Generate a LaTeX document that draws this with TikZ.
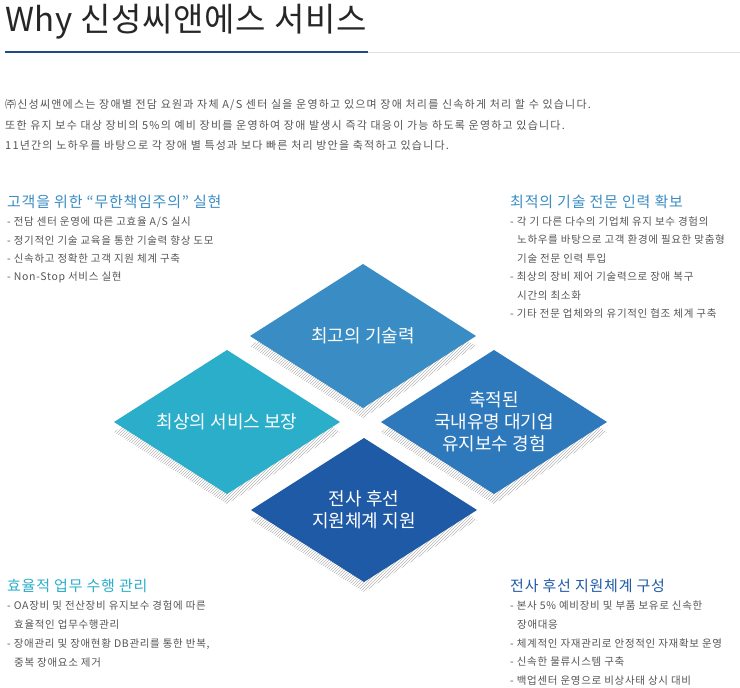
\documentclass[tikz,border=0pt]{standalone}
\usepackage{fontspec}
\setmainfont{Noto Sans CJK KR}
\newfontfamily\introfont[LetterSpace=11]{Noto Sans CJK KR}
\newfontfamily\bodyfont[LetterSpace=6.5]{Noto Sans CJK KR}
\newfontfamily\headfont[LetterSpace=5]{Noto Sans CJK KR}
\newfontfamily\titlefont[LetterSpace=2]{Noto Sans CJK KR}
\usetikzlibrary{patterns}
\definecolor{txt}{HTML}{555555}
\definecolor{cA}{HTML}{3A8DC4}
\definecolor{cB}{HTML}{2AAEC9}
\definecolor{cC}{HTML}{2E78BC}
\definecolor{cD}{HTML}{1F5AA6}
\definecolor{navy}{HTML}{1F4A8A}
\tikzset{
 body/.style={anchor=west,inner sep=0pt,text=txt,font=\bodyfont\fontsize{10.5}{12}\selectfont},
 intro/.style={anchor=west,inner sep=0pt,text=txt,font=\introfont\fontsize{11}{12}\selectfont},
 head/.style={anchor=west,inner sep=0pt,font=\headfont\fontsize{15}{16}\selectfont},
 dlabel/.style={text=white,align=center,font=\fontsize{18}{22}\selectfont},
 shadowd/.style={pattern=north east lines,pattern color=black!28},
}
\newcommand{\dia}[4]{%
 \fill[shadowd] (#1-113,#2+10) -- (#1,#2-62) -- (#1+113,#2+10) -- (#1,#2+82) -- cycle;
 \fill[#3] (#1-113,#2) -- (#1,#2-72) -- (#1+113,#2) -- (#1,#2+72) -- cycle;
 \node[dlabel] (#4) at (#1,#2) {};}
\begin{document}
\begin{tikzpicture}[x=1pt,y=-1pt]
\useasboundingbox (0,0) rectangle (740,688);
\fill[white] (0,0) rectangle (740,688);
\node[anchor=west,inner sep=0pt,text=black!85,font=\titlefont\fontsize{33}{36}\selectfont] (title) at (5,22) {Why 신성씨앤에스 서비스};
\draw[black!12,line width=1] (368,52.5) -- (740,52.5);
\draw[navy,line width=2.5] (5,52) -- (368,52);
\node[intro] (i1) at (5,105) {㈜신성씨앤에스는 장애별 전담 요원과 자체 A/S 센터 실을 운영하고 있으며 장애 처리를 신속하게 처리 할 수 있습니다.};
\node[intro] (i2) at (5,125) {또한 유지 보수 대상 장비의 5\%의 예비 장비를 운영하여 장애 발생시 즉각 대응이 가능 하도록 운영하고 있습니다.};
\node[intro] (i3) at (5,145) {11년간의 노하우를 바탕으로 각 장애 별 특성과 보다 빠른 처리 방안을 축적하고 있습니다.};
% diamonds
\dia{363}{336}{cA}{dA}
\dia{227}{422}{cB}{dB}
\dia{494}{422}{cC}{dC}
\dia{364}{510}{cD}{dD}
\node[dlabel] at (363,336) {최고의 기술력};
\node[dlabel] at (227,422) {최상의 서비스 보장};
\node[dlabel] at (494,422) {축적된\\국내유명 대기업\\유지보수 경험};
\node[dlabel] at (364,510) {전사 후선\\지원체계 지원};
% top-left
\node[head,text=cA] (h1) at (7,202) {고객을 위한 “무한책임주의” 실현};
\node[body] at (7,222) {- 전담 센터 운영에 따른 고효율 A/S 실시};
\node[body] at (7,240.5) {- 정기적인 기술 교육을 통한 기술력 향상 도모};
\node[body] at (7,259) {- 신속하고 정확한 고객 지원 체계 구축};
\node[body] at (7,277.5) {- Non-Stop 서비스 실현};
% top-right
\node[head,text=cA] (h2) at (510,202) {최적의 기술 전문 인력 확보};
\node[body] at (510,221.5) {- 각 기 다른 다수의 기업체 유지 보수 경험의};
\node[body] at (517,240) {노하우를 바탕으로 고객 환경에 필요한 맞춤형};
\node[body] at (517,258.5) {기술 전문 인력 투입};
\node[body] at (510,277) {- 최상의 장비 제어 기술력으로 장애 복구};
\node[body] at (517,295.5) {시간의 최소화};
\node[body] at (510,314) {- 기타 전문 업체와의 유기적인 협조 체계 구축};
% bottom-left
\node[head,text=cB] (h3) at (7,586) {효율적 업무 수행 관리};
\node[body] at (7,606) {- OA장비 및 전산장비 유지보수 경험에 따른};
\node[body] at (14,624.5) {효율적인 업무수행관리};
\node[body] at (7,644) {- 장애관리 및 장애현황 DB관리를 통한 반복,};
\node[body] at (14,662.5) {중복 장애요소 제거};
% bottom-right
\node[head,text=cD] (h4) at (510,586) {전사 후선 지원체계 구성};
\node[body] at (510,606) {- 본사 5\% 예비장비 및 부품 보유로 신속한};
\node[body] at (517,624.5) {장애대응};
\node[body] at (510,643.5) {- 체계적인 자재관리로 안정적인 자재확보 운영};
\node[body] at (510,662) {- 신속한 물류시스템 구축};
\node[body] at (510,681) {- 백업센터 운영으로 비상사태 상시 대비};
\end{tikzpicture}
\end{document}
